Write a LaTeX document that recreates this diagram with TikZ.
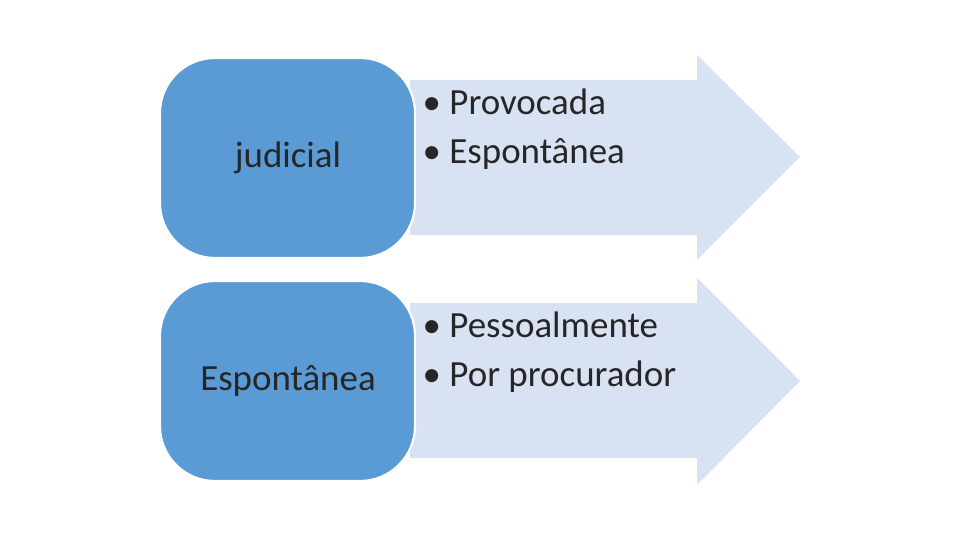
\documentclass[tikz,border=0pt]{standalone}
\usepackage{fontspec}
\setmainfont{Carlito}
\definecolor{boxblue}{HTML}{5B9BD5}
\definecolor{arrowfill}{HTML}{D9E2F3}
\begin{document}
\begin{tikzpicture}[x=0.01cm,y=-0.01cm,
  arr/.style={fill=arrowfill,draw=none},
  box/.style={fill=boxblue,draw=white,line width=0.6pt,rounded corners=0.55cm},
  lbl/.style={font=\fontsize{10.5pt}{12pt}\selectfont,text=black!85,anchor=center},
  items/.style={font=\fontsize{10.5pt}{14pt}\selectfont,text=black!85,anchor=north west,align=left,inner sep=0pt}]
\useasboundingbox (0,0) rectangle (960,540);
\fill[arr] (410,80) -- (697,80) -- (697,55) -- (800,157) -- (697,260) -- (697,235) -- (410,235) -- cycle;
\fill[arr] (410,303) -- (697,303) -- (697,278) -- (800,381) -- (697,485) -- (697,458) -- (410,458) -- cycle;
\path[box] (160,58) rectangle (415,258);
\path[box] (160,281) rectangle (415,481);
\node[lbl] (j) at (288,158) {judicial};
\node[lbl] (e) at (288,381) {Espontânea};
\node[items] (l1) at (422,88) {• Provocada\\• Espontânea};
\node[items] (l2) at (422,311) {• Pessoalmente\\• Por procurador};
\end{tikzpicture}
\end{document}
